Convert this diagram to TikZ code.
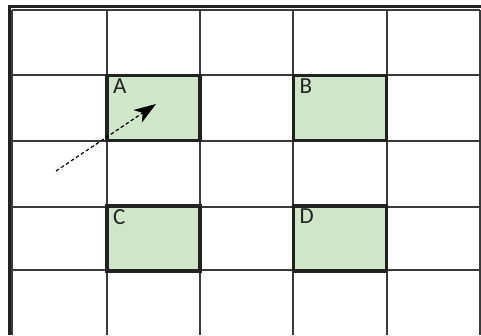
\documentclass[tikz,border=0pt]{standalone}
\usepackage{fontspec}
\setmainfont{Carlito}
\usetikzlibrary{arrows.meta}
\definecolor{boxgreen}{HTML}{D0E6C8}
\definecolor{darkline}{HTML}{222222}
\definecolor{gridline}{HTML}{3A3A3A}
\begin{document}
\begin{tikzpicture}[x=1pt,y=-1pt,
  gridl/.style={draw=gridline,line width=1.2pt},
  frame/.style={draw=darkline,line width=3.2pt},
  cellbox/.style={draw=darkline,fill=boxgreen,line width=3.2pt,minimum width=93pt,minimum height=65pt,inner sep=0pt,outer sep=0pt},
  lbl/.style={anchor=north west,inner sep=0pt,font=\fontsize{23}{23}\selectfont,text=darkline},
  conn/.style={draw=black,line width=1.2pt,dash pattern=on 3.5pt off 2.5pt,-{Stealth[length=22pt,width=15pt,inset=6pt]}}]
\useasboundingbox (0,0) rectangle (481,335);
\fill[white] (0,0) rectangle (481,335);
% grid
\foreach \x in {12,107,200,293,387,480} \draw[gridl] (\x,10) -- (\x,335);
\foreach \y in {10,75,141,207,270} \draw[gridl] (12,\y) -- (480,\y);
% outer frame
\draw[frame] (8,6.5) -- (481,6.5);
\draw[frame] (9.5,5) -- (9.5,335);
% boxes
\node[cellbox] (A) at (153.5,108) {};
\node[cellbox] (B) at (340,108) {};
\node[cellbox] (C) at (153.5,238.5) {};
\node[cellbox] (D) at (340,238.5) {};
\node[lbl] (la) at ([xshift=6pt,yshift=-3pt]A.north west) {A};
\node[lbl] (lb) at ([xshift=6pt,yshift=-3pt]B.north west) {B};
\node[lbl] (lc) at ([xshift=6pt,yshift=-3pt]C.north west) {C};
\node[lbl] (ld) at ([xshift=6pt,yshift=-3pt]D.north west) {D};
% arrow
\coordinate (tail) at (56,171);
\coordinate (tip) at (156,104);
\draw[conn] (tail) -- (tip);
\end{tikzpicture}
\end{document}
